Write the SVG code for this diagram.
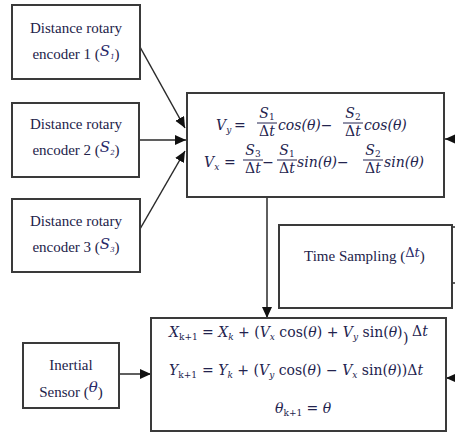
<svg xmlns="http://www.w3.org/2000/svg" width="455" height="432" viewBox="0 0 455 432">
<style>
.box{fill:#fff;stroke:#3a3a3a;stroke-width:2}
.lbl{font-family:"Liberation Serif",serif;font-size:15px;fill:#23234a}
.var{font-family:"DejaVu Serif",serif;font-style:italic;fill:#2a2a6a}
.m{font-family:"DejaVu Serif",serif;font-style:italic;font-size:14px;fill:#23234e}
.u{font-style:normal}
.sub{font-size:9px}
.bar{stroke:#23234e;stroke-width:1}
.con{stroke:#2a2a2a;stroke-width:1.5;fill:none}
</style>
<defs>
<marker id="ah" markerUnits="userSpaceOnUse" markerWidth="12" markerHeight="12" refX="11" refY="5" orient="auto">
<path d="M0,0 L11,5 L0,10 Z" fill="#111"/>
</marker>
</defs>
<rect width="455" height="432" fill="#fff"/>

<g id="connectors">
<line class="con" x1="140" y1="47" x2="185" y2="128" marker-end="url(#ah)"/>
<line class="con" x1="139" y1="140" x2="186" y2="140" marker-end="url(#ah)"/>
<line class="con" x1="140" y1="229" x2="185" y2="151" marker-end="url(#ah)"/>
<line class="con" x1="267" y1="197" x2="267" y2="318" marker-end="url(#ah)"/>
<line class="con" x1="119" y1="374" x2="151" y2="374" marker-end="url(#ah)"/>
<line class="con" x1="466" y1="139" x2="445" y2="139" marker-end="url(#ah)"/>
<line class="con" x1="466" y1="378" x2="446" y2="378" marker-end="url(#ah)"/>
<line class="con" x1="452" y1="227" x2="458" y2="227"/>
<line class="con" x1="452" y1="283" x2="458" y2="283"/>
</g>

<g id="enc1">
<rect class="box" x="12" y="5" width="128" height="74"/>
<text class="lbl" x="76" y="33" text-anchor="middle">Distance rotary</text>
<text class="lbl" x="76" y="59" text-anchor="middle">encoder 1 (<tspan class="var" font-size="15" dy="-3">S</tspan><tspan class="var" font-size="7" dy="3">1</tspan>)</text>
</g>

<g id="enc2">
<rect class="box" x="12" y="103" width="127" height="74"/>
<text class="lbl" x="76" y="129" text-anchor="middle">Distance rotary</text>
<text class="lbl" x="76" y="155" text-anchor="middle">encoder 2 (<tspan class="var" font-size="15" dy="-3">S</tspan><tspan class="var" font-size="7" dy="3">2</tspan>)</text>
</g>

<g id="enc3">
<rect class="box" x="12" y="199" width="128" height="73"/>
<text class="lbl" x="76" y="226" text-anchor="middle">Distance rotary</text>
<text class="lbl" x="76" y="252" text-anchor="middle">encoder 3 (<tspan class="var" font-size="15" dy="-3">S</tspan><tspan class="var" font-size="7" dy="3">3</tspan>)</text>
</g>

<g id="velocity">
<rect class="box" x="187" y="93" width="257" height="104"/>
<text class="m" x="216" y="130">V<tspan class="sub" dy="3">y</tspan></text>
<text class="m u" x="234" y="130">=</text>
<text class="m" x="267" y="118" text-anchor="middle">S<tspan class="sub u" dy="2">1</tspan></text>
<line class="bar" x1="257" y1="123" x2="277" y2="123"/>
<text class="m" x="267" y="136" text-anchor="middle"><tspan class="u">Δ</tspan>t</text>
<text class="m" x="278" y="130">cos(θ)<tspan class="u">−</tspan></text>
<text class="m" x="353" y="118" text-anchor="middle">S<tspan class="sub u" dy="2">2</tspan></text>
<line class="bar" x1="343" y1="123" x2="363" y2="123"/>
<text class="m" x="353" y="136" text-anchor="middle"><tspan class="u">Δ</tspan>t</text>
<text class="m" x="364" y="130">cos(θ)</text>

<text class="m" x="204" y="167">V<tspan class="sub" dy="3">x</tspan></text>
<text class="m u" x="224" y="167">=</text>
<text class="m" x="253" y="155" text-anchor="middle">S<tspan class="sub u" dy="2">3</tspan></text>
<line class="bar" x1="243" y1="160" x2="263" y2="160"/>
<text class="m" x="253" y="173" text-anchor="middle"><tspan class="u">Δ</tspan>t</text>
<text class="m u" x="268" y="167" text-anchor="middle">−</text>
<text class="m" x="287" y="155" text-anchor="middle">S<tspan class="sub u" dy="2">1</tspan></text>
<line class="bar" x1="277" y1="160" x2="297" y2="160"/>
<text class="m" x="287" y="173" text-anchor="middle"><tspan class="u">Δ</tspan>t</text>
<text class="m" x="297" y="167">sin(θ)<tspan class="u">−</tspan></text>
<text class="m" x="373" y="155" text-anchor="middle">S<tspan class="sub u" dy="2">2</tspan></text>
<line class="bar" x1="363" y1="160" x2="383" y2="160"/>
<text class="m" x="373" y="173" text-anchor="middle"><tspan class="u">Δ</tspan>t</text>
<text class="m" x="384" y="167">sin(θ)</text>
</g>

<g id="timesampling">
<rect class="box" x="279" y="225" width="173" height="83"/>
<text class="lbl" x="304" y="261">Time Sampling (<tspan class="var" font-size="13" dy="-4"><tspan font-style="normal">Δ</tspan>t</tspan><tspan dy="4">)</tspan></text>
</g>

<g id="inertial">
<rect class="box" x="23" y="343" width="96" height="65"/>
<text class="lbl" x="71" y="370" text-anchor="middle">Inertial</text>
<text class="lbl" x="71" y="397" text-anchor="middle">Sensor (<tspan class="var" font-size="15" dy="-5">θ</tspan><tspan dy="5">)</tspan></text>
</g>

<g id="position">
<rect class="box" x="151" y="318" width="295" height="113"/>
<text class="m" x="169" y="337">X<tspan class="sub u" dy="3">k+1</tspan></text>
<text class="m" x="202" y="337"><tspan class="u">=</tspan> X<tspan class="sub" dy="3">k</tspan><tspan dy="-3" class="u"> + (</tspan>V<tspan class="sub" dy="3">x</tspan><tspan dy="-3" class="u"> cos(</tspan>θ<tspan class="u">) + </tspan>V<tspan class="sub" dy="3">y</tspan><tspan dy="-3" class="u"> sin(</tspan>θ<tspan class="u">)</tspan></text>
<text class="m u" x="403" y="343">)</text>
<text class="m" x="412" y="336"><tspan class="u">Δ</tspan>t</text>

<text class="m" x="169" y="375">Y<tspan class="sub u" dy="3">k+1</tspan></text>
<text class="m" x="202" y="375"><tspan class="u">= </tspan>Y<tspan class="sub" dy="3">k</tspan><tspan dy="-3" class="u"> + (</tspan>V<tspan class="sub" dy="3">y</tspan><tspan dy="-3" class="u"> cos(</tspan>θ<tspan class="u">) − </tspan>V<tspan class="sub" dy="3">x</tspan><tspan dy="-3" class="u"> sin(</tspan>θ<tspan class="u">))</tspan><tspan class="u">Δ</tspan>t</text>

<text class="m" x="275" y="413">θ<tspan class="sub u" dy="3">k+1</tspan><tspan dy="-3" class="u"> = </tspan>θ</text>
</g>
</svg>
